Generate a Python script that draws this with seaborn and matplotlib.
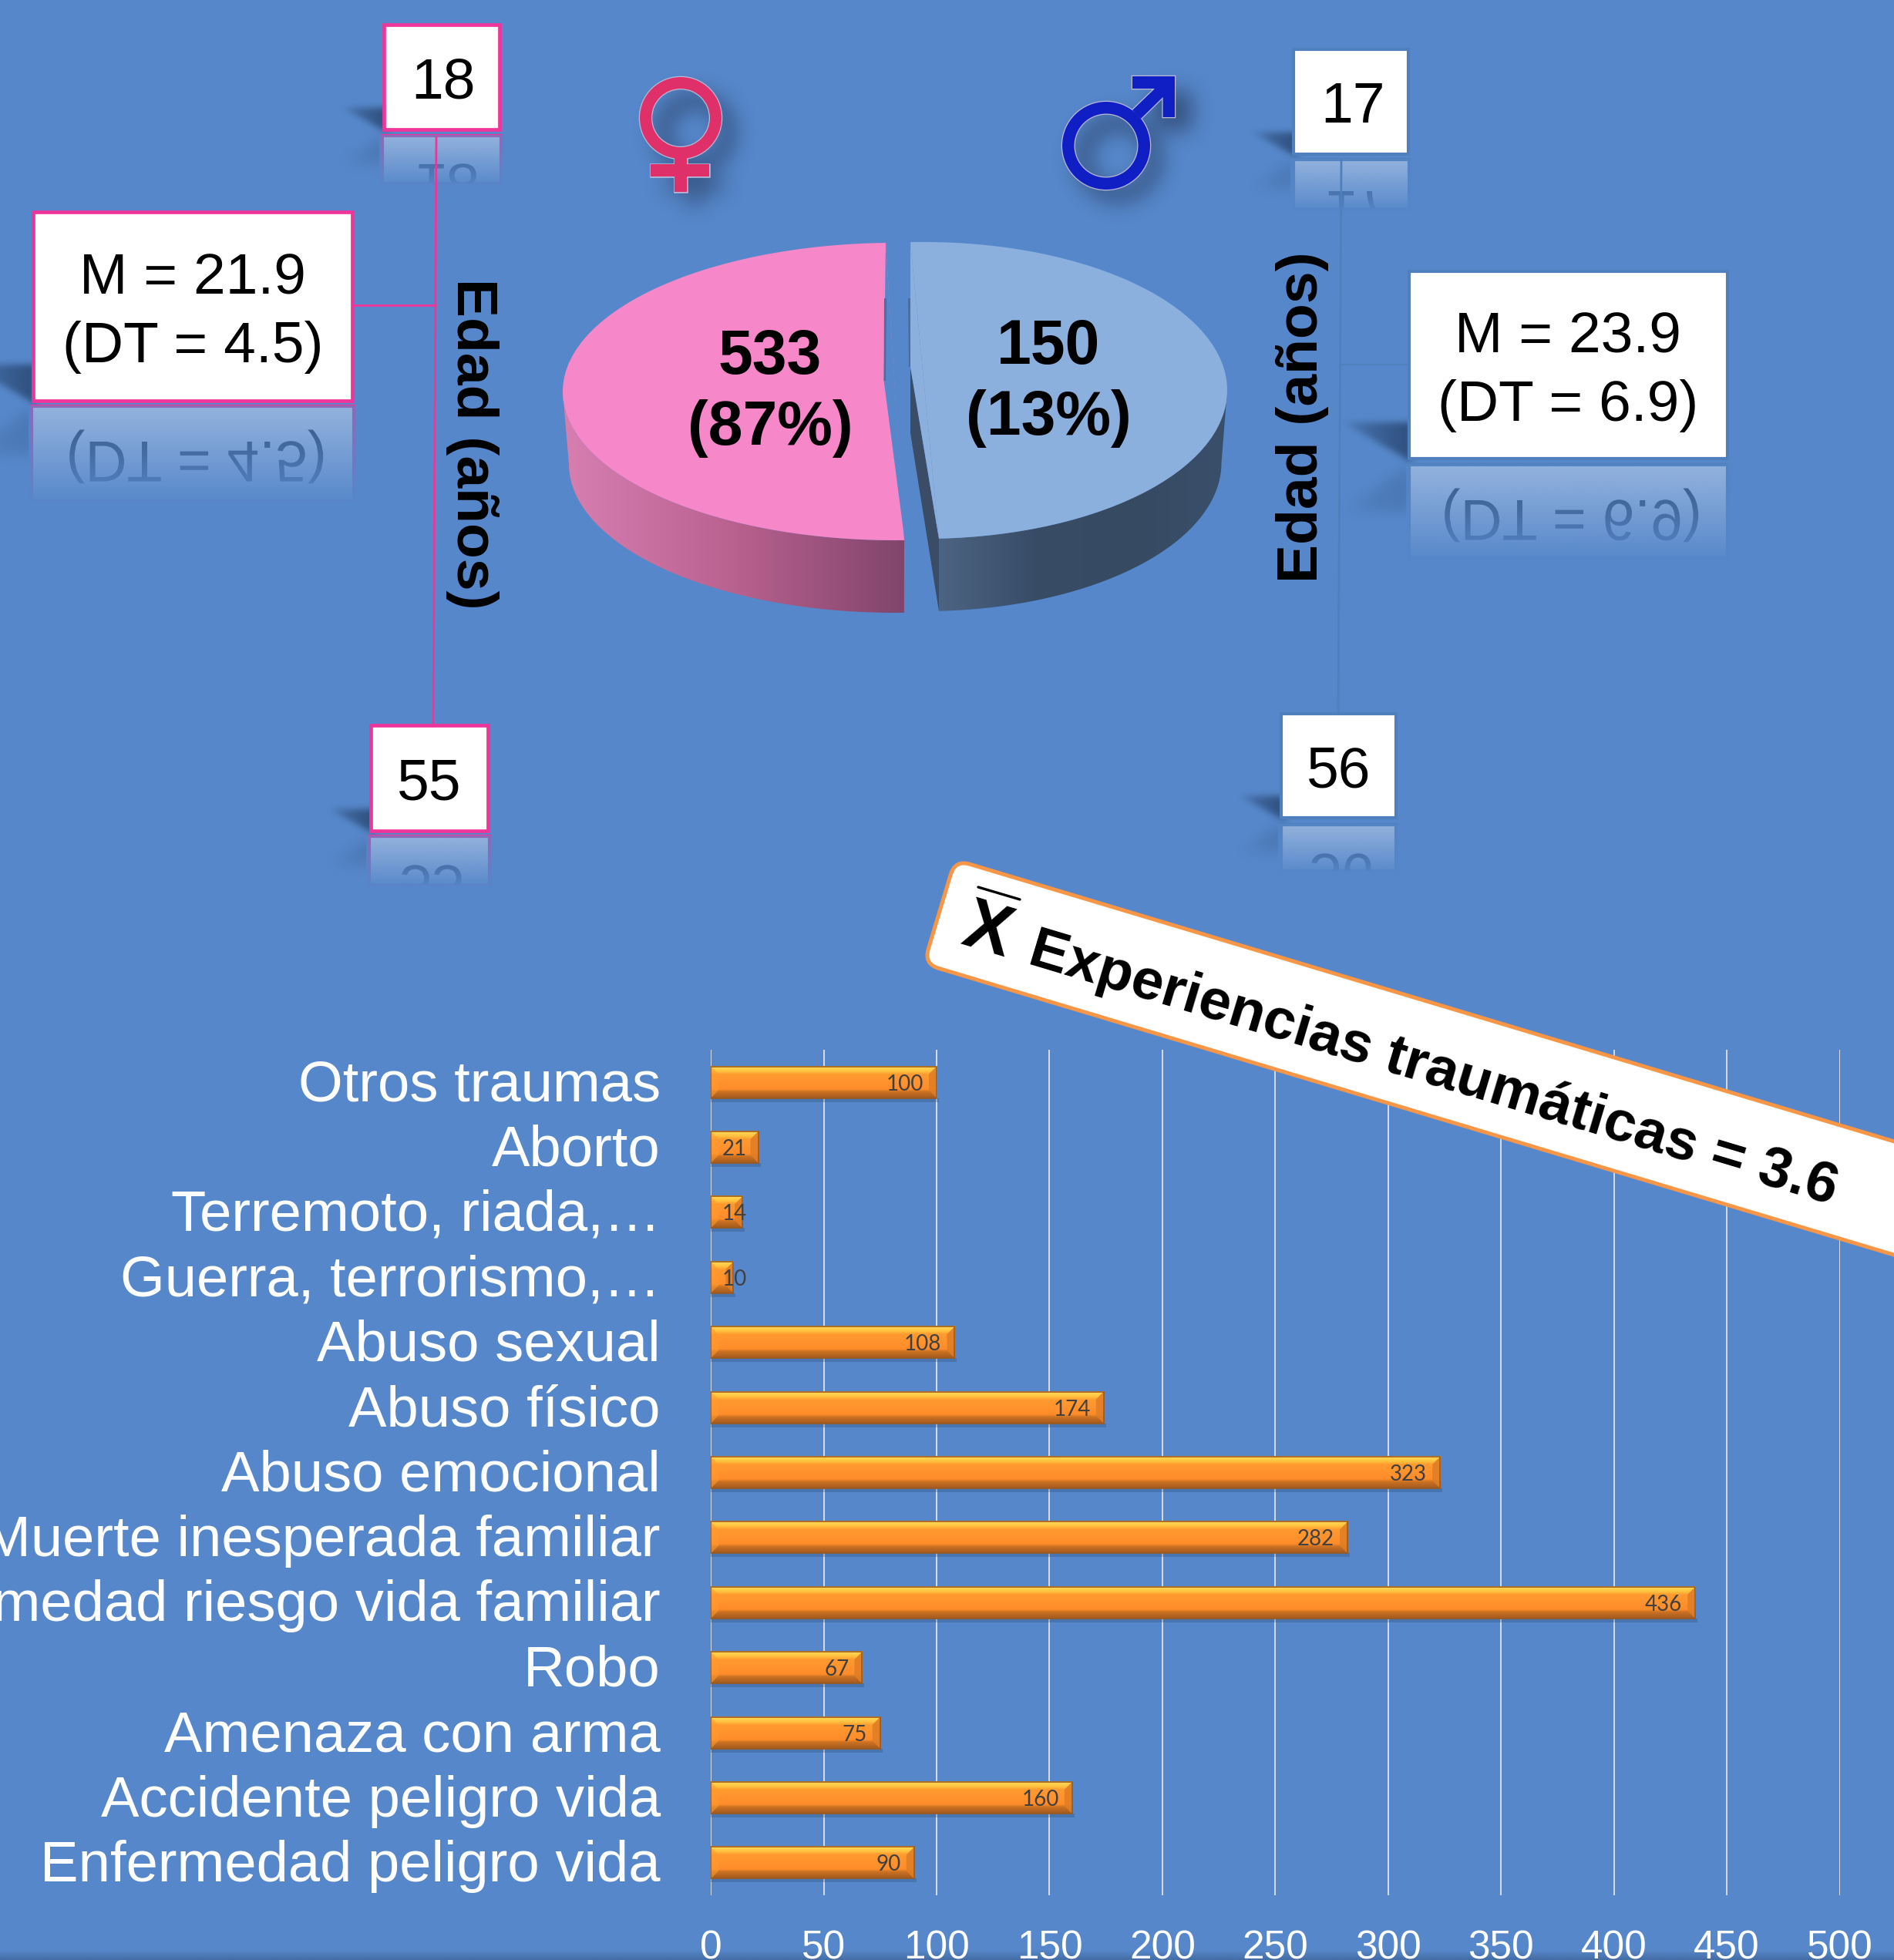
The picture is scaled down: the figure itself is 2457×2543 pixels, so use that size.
import numpy as np
import seaborn as sns
import matplotlib.pyplot as plt
from matplotlib.colors import LinearSegmentedColormap, to_rgb
from matplotlib.font_manager import FontProperties
from matplotlib.patches import Annulus, FancyBboxPatch, PathPatch, Polygon, Rectangle
from matplotlib.path import Path
from matplotlib.textpath import TextPath
from matplotlib.transforms import Affine2D, ScaledTranslation

W, H = 2457, 2543

traumas = [
    "Otros traumas",
    "Aborto",
    "Terremoto, riada,…",
    "Guerra, terrorismo,…",
    "Abuso sexual",
    "Abuso físico",
    "Abuso emocional",
    "Muerte inesperada familiar",
    "Enfermedad riesgo vida familiar",
    "Robo",
    "Amenaza con arma",
    "Accidente peligro vida",
    "Enfermedad peligro vida",
]
casos = [100, 21, 14, 10, 108, 174, 323, 282, 436, 67, 75, 160, 90]
x_ticks = [0, 50, 100, 150, 200, 250, 300, 350, 400, 450, 500]

# the slices are drawn about half and half in the picture, whatever the labels say
porcion_mujeres = [50, 50]
porcion_hombres = [50, 50]
etiqueta_mujeres = "533\n(87%)"
etiqueta_hombres = "150\n(13%)"

edad_mujeres = ["18", "55"]
edad_hombres = ["17", "56"]
media_mujeres = ["M = 21.9", "(DT = 4.5)"]
media_hombres = ["M = 23.9", "(DT = 6.9)"]

BG = "#5687CA"
PINK = "#F0359A"
EDGE_BLUE = "#4F7FBC"
SANS = "Liberation Sans"

sns.set_theme(style="white")
plt.rcParams["font.family"] = [SANS, "DejaVu Sans"]

fig = plt.figure(figsize=(W / 100, H / 100), dpi=100, facecolor=BG)


def px_axes(left, top, right, bottom, zorder):
    ax = fig.add_axes(
        [left / W, 1 - bottom / H, (right - left) / W, (bottom - top) / H],
        zorder=zorder,
    )
    ax.patch.set_alpha(0)
    return ax


def rgba_image(rgb, alpha):
    img = np.zeros(alpha.shape + (4,))
    img[..., :3] = to_rgb(rgb)
    img[..., 3] = alpha
    return img


def box_blur(mask, size):
    kernel = np.ones(size) / size
    for _ in range(3):
        mask = np.apply_along_axis(np.convolve, 0, mask, kernel, mode="same")
        mask = np.apply_along_axis(np.convolve, 1, mask, kernel, mode="same")
    return mask


def soft_shadow(ax, points, alpha, blur=4):
    # triangle shadow to the left of a box, darker next to the box
    pts = np.array(points, dtype=float)
    x0, y0 = pts.min(axis=0) - 20
    x1, y1 = pts.max(axis=0) + 20
    xs = np.arange(x0, x1, 2)
    ys = np.arange(y0, y1, 2)
    gx, gy = np.meshgrid(xs, ys)
    inside = Path(pts).contains_points(np.c_[gx.ravel(), gy.ravel()]).reshape(gx.shape)
    ramp = np.clip((gx - pts[:, 0].min()) / np.ptp(pts[:, 0]), 0, 1) ** 0.6
    soft = box_blur(inside.astype(float) * ramp, blur)
    ax.imshow(
        rgba_image("#1F3A60", soft * alpha),
        extent=(x0, x1, y1, y0),
        aspect="auto",
        zorder=1,
        interpolation="bilinear",
    )


def value_box(ax, x0, y0, x1, y1, border, lw, lines, cx, first_y):
    ax.add_patch(Rectangle((x0, y0), x1 - x0, y1 - y0, fc="white", ec=border, lw=lw, zorder=4))
    for i, line in enumerate(lines):
        ax.text(cx, first_y + i * 89 - 1, line, fontsize=54, color="black", ha="center",
                va="center_baseline", zorder=5)
    w = 91 if len(lines) > 1 else 60
    h = 52 if len(lines) > 1 else 33
    soft_shadow(ax, [(x0 - w, y1 - h), (x0, y1 - h), (x0, y1)], 0.72)
    soft_shadow(ax, [(x0 - w, y1 + h * 1.25), (x0, y1 + h * 1.25), (x0, y1 + 4)], 0.22, blur=8)


def reflection(ax, x0, y0, x1, y1, axis_y, border, lines, cx, first_y):
    # a mirror of the box: white panel and flipped text, then fade with background colour
    clip = Rectangle((x0, y0), x1 - x0, y1 - y0, transform=ax.transData)
    ax.add_patch(Rectangle((x0, y0), x1 - x0, y1 - y0, fc="white", ec=border, lw=3, zorder=2))
    font = FontProperties(family=SANS)
    for i, line in enumerate(lines):
        tp = TextPath((0, 0), line, size=75, prop=font)
        width = tp.get_extents().width
        base = 2 * axis_y - (first_y + i * 89 + 27)
        patch = PathPatch(
            tp,
            fc="black",
            lw=0,
            zorder=2.5,
            transform=Affine2D().translate(cx - width / 2, base) + ax.transData,
        )
        ax.add_patch(patch)
        patch.set_clip_path(clip)
    alpha = np.linspace(0.64, 1, 64).reshape(-1, 1)
    ax.imshow(
        rgba_image(BG, alpha),
        extent=(x0 - 4, x1 + 4, y1 + 4, y0 - 1),
        aspect="auto",
        zorder=3,
    )


def clipped_gradient(ax, points, colors, zorder):
    poly = Polygon(points, closed=True, fc="none", ec="none", transform=ax.transData)
    ax.add_patch(poly)
    pts = np.array(points)
    cmap = LinearSegmentedColormap.from_list("side", colors)
    im = ax.imshow(
        np.linspace(0, 1, 256).reshape(1, -1),
        cmap=cmap,
        extent=(pts[:, 0].min(), pts[:, 0].max(), pts[:, 1].max(), pts[:, 1].min()),
        aspect="auto",
        zorder=zorder,
    )
    im.set_clip_path(poly)


def ellipse_arc(cx, cy, a, b, t0, t1, n=160):
    # angles as in a pie, y of the picture grows downwards
    t = np.radians(np.linspace(t0, t1, n))
    return np.c_[cx + a * np.cos(t), cy - b * np.sin(t)]


def symbol_shadow(ax, x0, y0, x1, y1, mask_fn):
    xs = np.arange(x0, x1, 2)
    ys = np.arange(y0, y1, 2)
    gx, gy = np.meshgrid(xs, ys)
    soft = box_blur(mask_fn(gx, gy).astype(float), 13)
    ax.imshow(rgba_image("#1F3050", soft * 0.6), extent=(x0, x1, y1, y0), aspect="auto", zorder=1)


# ----- full picture layer, one unit is one pixel -----
bg = px_axes(0, 0, W, H, 0)
bg.axis("off")

# strip at the foot of the slide
bg.imshow(
    rgba_image("#3F6598", np.linspace(0, 0.75, 16).reshape(-1, 1)),
    extent=(0, W, H, 2530),
    aspect="auto",
    zorder=0.5,
)

# left side boxes
reflection(bg, 496, 176, 650, 238, 171, PINK, edad_mujeres[:1], 575, 102)
reflection(bg, 41, 527, 459, 650, 522, PINK, media_mujeres, 250, 355)
reflection(bg, 479, 1085, 635, 1148, 1081, PINK, edad_mujeres[1:], 557, 1012)
bg.plot([566, 562], [178, 939], color=PINK, lw=2, zorder=3.5)
bg.plot([459, 565], [396, 396], color=PINK, lw=2, zorder=3.5)
value_box(bg, 498, 32, 648, 168, PINK, 3.4, edad_mujeres[:1], 575, 102)
value_box(bg, 43, 275, 457, 520, PINK, 3.4, media_mujeres, 250, 355)
value_box(bg, 481, 941, 633, 1078, PINK, 3.4, edad_mujeres[1:], 557, 1012)
bg.text(613, 576, "Edad (años)", fontsize=54, fontweight="bold", color="black",
        rotation=-90, ha="center", va="center", zorder=5)

# right side boxes
reflection(bg, 1678, 207, 1828, 271, 204, EDGE_BLUE, edad_hombres[:1], 1755, 133)
reflection(bg, 1828, 603, 2241, 724, 598, EDGE_BLUE, media_hombres, 2034, 431)
reflection(bg, 1662, 1070, 1811, 1130, 1065, EDGE_BLUE, edad_hombres[1:], 1737, 995)
bg.plot([1740, 1736], [207, 928], color=EDGE_BLUE, lw=2, zorder=3.5)
bg.plot([1740, 1826], [473, 473], color=EDGE_BLUE, lw=1.5, zorder=3.5)
value_box(bg, 1678, 64, 1827, 200, EDGE_BLUE, 3, edad_hombres[:1], 1755, 133)
value_box(bg, 1828, 352, 2241, 595, EDGE_BLUE, 3, media_hombres, 2034, 431)
value_box(bg, 1662, 926, 1811, 1061, EDGE_BLUE, 3, edad_hombres[1:], 1737, 995)
bg.text(1690, 541, "Edad (años)", fontsize=54, fontweight="bold", color="black",
        rotation=90, ha="center", va="center", zorder=5)

# gender symbols
symbol_shadow(
    bg, 780, 40, 1000, 330,
    lambda x, y: (np.hypot(x - 901, y - 171) < 53) & (np.hypot(x - 901, y - 171) > 32)
    | ((abs(x - 901) < 8) & (y > 220) & (y < 267))
    | ((abs(x - 901) < 38) & (y > 231) & (y < 247)),
)
symbol_shadow(
    bg, 1320, 50, 1610, 320,
    lambda x, y: (np.hypot(x - 1450, y - 204) < 57) & (np.hypot(x - 1450, y - 204) > 36)
    | ((x > 1490) & (x < 1546) & (y > 116) & (y < 170) & (x - 1490 > (y - 116) * 0.2)),
)
for edge, lw in [("#B9B9D8", 1.8), ("none", 0)]:
    fem = "#E0306A"
    bg.add_patch(Annulus((883, 153), 53, 15, fc=fem, ec=edge, lw=lw, zorder=2))
    bg.add_patch(Rectangle((875, 204), 16, 45, fc=fem, ec=edge, lw=lw, zorder=2))
    bg.add_patch(Rectangle((844, 213), 76, 16, fc=fem, ec=edge, lw=lw, zorder=2))
    mal = "#0F1FC4"
    bg.add_patch(Annulus((1435, 189), 57, 15.5, fc=mal, ec=edge, lw=lw, zorder=2))
    arrow = [(1469, 99), (1524, 99), (1524, 152), (1508.6, 152), (1508.6, 126),
             (1480, 154), (1469, 143), (1498, 115), (1469, 115)]
    bg.add_patch(Polygon(arrow, closed=True, fc=mal, ec=edge, lw=lw, zorder=2))

# sides of the pie
DEPTH = 94
pink_arc = ellipse_arc(1161, 508, 431, 193, 180, 271.6)
pink_low = ellipse_arc(1161, 508 + DEPTH, 423, 193, 180, 271.6)
clipped_gradient(bg, np.vstack([pink_arc, pink_low[::-1]]), ["#D87FB2", "#B9618F", "#80456B"], 2)
blue_arc = ellipse_arc(1199.5, 506.5, 392.5, 192.5, 272.7, 360)
blue_low = ellipse_arc(1199.5, 506.5 + DEPTH, 385, 192.5, 272.7, 360)
clipped_gradient(bg, np.vstack([blue_arc, blue_low[::-1]]), ["#4C6483", "#384C66", "#364A62", "#3A4F6A"], 2)
# inner cut of the blue slice
bg.add_patch(Polygon([(1181, 476), (1218, 699), (1218, 793), (1181, 562)], closed=True,
                     fc="#3A4C66", ec="none", zorder=2.2))
bg.set_xlim(0, W)
bg.set_ylim(H, 0)

# ----- pie, one axes per slice because each one has its own ellipse -----
ax_f = px_axes(1161 - 431, 508 - 193, 1161 + 431, 508 + 193, 2)
wedges, _ = ax_f.pie(porcion_mujeres, colors=["#F687C8", "#F687C8"], startangle=91.6, radius=1,
                     wedgeprops={"linewidth": 0})
wedges[1].set_visible(False)
ax_f.set_aspect("auto")
ax_f.set_xlim(-1, 1)
ax_f.set_ylim(-1, 1)

ax_m = px_axes(1199.5 - 392.5, 506.5 - 192.5, 1199.5 + 392.5, 506.5 + 192.5, 2)
wedges, _ = ax_m.pie(porcion_hombres, colors=["#8CB0DE", "#8CB0DE"], startangle=-87.3, radius=1,
                     wedgeprops={"linewidth": 0})
wedges[1].set_visible(False)
ax_m.set_aspect("auto")
ax_m.set_xlim(-1, 1)
ax_m.set_ylim(-1, 1)

# ----- bars -----
X0, X1 = 922.1, 2386.6
ROW = 84.4
TOP = 1404 - ROW / 2
BOTTOM = 2417 + ROW / 2
ax = px_axes(X0, TOP, X1, BOTTOM, 1)

sns.barplot(x=casos, y=traumas, orient="h", color="#FF8C2A", saturation=1,
            width=41 / ROW, ax=ax)
ax.set_xlim(0, 500)
ax.set_ylim(len(traumas) - 0.5, -0.5)
ax.set_xticks(x_ticks)
ax.set_axisbelow(True)
ax.grid(axis="x", color="#D9DDE3", lw=1.4)
ax.grid(axis="y", visible=False)
sns.despine(ax=ax, left=True, bottom=True)
ax.set_xlabel("")
ax.set_ylabel("")
ax.tick_params(axis="x", length=0, pad=32, labelcolor="white", labelsize=37)
ax.tick_params(axis="y", length=0, pad=47, labelcolor="white", labelsize=53.5)
# labels sit a little above the centre of their bar
for label in ax.get_yticklabels():
    label.set_transform(label.get_transform() + ScaledTranslation(0, 3 / 100, fig.dpi_scale_trans))

dx = 500 / (X1 - X0)
dy = 1 / ROW
bar_cmap = LinearSegmentedColormap.from_list(
    "bar",
    [(0, "#FFDB5C"), (0.15, "#FFC440"), (0.26, "#FF9A30"), (0.72, "#FF8C2A"),
     (0.8, "#CC7222"), (1, "#A35A1E")],
)
for patch, value in zip(ax.patches, casos):
    x0, y0, w, h = patch.get_x(), patch.get_y(), patch.get_width(), patch.get_height()
    y1 = y0 + h
    bev_x = min(10 * dx, w / 2)
    bev_y = 10 * dy
    ax.add_patch(Rectangle((x0, y1), w + 3 * dx, 5 * dy, fc="#27436B", ec="none", alpha=0.28, zorder=2))
    ax.imshow(np.linspace(0, 1, 64).reshape(-1, 1), cmap=bar_cmap, vmin=0, vmax=1,
              extent=(x0, x0 + w, y1, y0), aspect="auto", zorder=3)
    ax.add_patch(Polygon([(x0 + w, y0), (x0 + w - bev_x, y0 + bev_y), (x0 + w - bev_x, y1 - bev_y), (x0 + w, y1)],
                         closed=True, fc="#E07E25", ec="none", alpha=0.9, zorder=3.2))
    ax.add_patch(Polygon([(x0, y0), (x0 + bev_x, y0 + bev_y), (x0 + bev_x, y1 - bev_y), (x0, y1)],
                         closed=True, fc="#FF9A30", ec="none", alpha=0.6, zorder=3.2))
    patch.set_facecolor("none")
    patch.set_edgecolor("#9C5A1E")
    patch.set_linewidth(1.2)
    patch.set_zorder(4)
    # label sits at the inner end of the bar, short bars keep it at a minimum place
    ax.text(max(value - 17 * dx, 16), y0 + h / 2, str(value), color="#404040", fontsize=20,
            fontfamily="Lato", ha="right", va="center_baseline", zorder=5)
ax.set_xlim(0, 500)
ax.set_ylim(len(traumas) - 0.5, -0.5)

# ----- top layer: pie labels, banner -----
top = px_axes(0, 0, W, H, 3)
top.axis("off")
top.set_xlim(0, W)
top.set_ylim(H, 0)

# small notches so that the cut of each slice bends at its apex as in the picture
top.add_patch(Polygon([(1149, 315), (1146.6, 494), (1173.6, 701)], closed=True, fc=BG, ec="none", zorder=1))
top.add_patch(Polygon([(1181, 314), (1181, 476), (1218, 699)], closed=True, fc="#8CB0DE", ec="none", zorder=1))
top.add_patch(Polygon([(1147, 387), (1150, 387), (1149, 494), (1146.6, 494)], closed=True,
                      fc="#4A6E9E", ec="none", zorder=1))
top.add_patch(Polygon([(1178, 387), (1181, 387), (1181, 476), (1178.5, 476)], closed=True,
                      fc="#4A6E9E", ec="none", zorder=1))

top.text(999, 510, etiqueta_mujeres, fontsize=58, fontweight="bold", color="black",
         ha="center", va="center", linespacing=1.28, zorder=3)
top.text(1360, 497, etiqueta_hombres, fontsize=58, fontweight="bold", color="black",
         ha="center", va="center", linespacing=1.28, zorder=3)

ANGLE = 16.7
corner = (1239, 1115.5)
top.add_patch(
    FancyBboxPatch(
        corner,
        1500,
        141,
        boxstyle="round,pad=0,rounding_size=20",
        fc="white",
        ec="#F79646",
        lw=3.6,
        zorder=4,
        transform=Affine2D().rotate_deg_around(corner[0], corner[1], ANGLE) + top.transData,
    )
)
top.text(1331, 1250, "Experiencias traumáticas = 3.6", fontsize=53.8, fontweight="bold",
         color="black", rotation=-ANGLE, rotation_mode="anchor", ha="left", va="baseline", zorder=5)
top.text(1280, 1210, "X", fontsize=66, fontweight="bold", color="black",
         rotation=-ANGLE, rotation_mode="anchor", ha="center", va="center", zorder=5)
top.plot([1269, 1323], [1151, 1167], color="black", lw=2.4, zorder=5)

fig.savefig("out.png", dpi=100, facecolor=BG)
